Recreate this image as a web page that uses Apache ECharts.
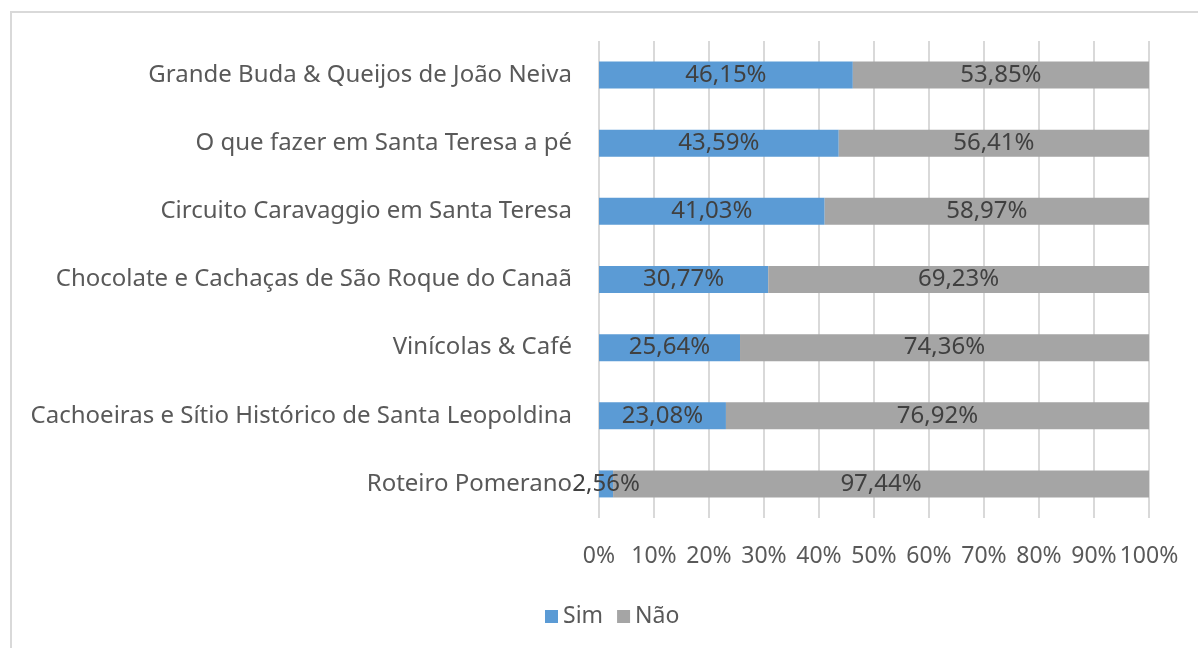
<!DOCTYPE html>
<html>
<head>
<meta charset="utf-8">
<script src="https://cdn.jsdelivr.net/npm/echarts@6/dist/echarts.min.js"></script>
<style>
  html, body { margin: 0; padding: 0; background: #fff; }
  #frame { position: absolute; left: 10px; top: 11px; width: 1200px; height: 660px; border: 2px solid #d9d9d9; box-sizing: border-box; }
  #chart { position: absolute; left: 0; top: 0; width: 1198px; height: 648px; }
</style>
</head>
<body>
<div id="frame"></div>
<div id="chart"></div>
<script>
var categories = [
  'Grande Buda & Queijos de João Neiva',
  'O que fazer em Santa Teresa a pé',
  'Circuito Caravaggio em Santa Teresa',
  'Chocolate e Cachaças de São Roque do Canaã',
  'Vinícolas & Café',
  'Cachoeiras e Sítio Histórico de Santa Leopoldina',
  'Roteiro Pomerano'
];
var simValues = [46.15, 43.59, 41.03, 30.77, 25.64, 23.08, 2.56];
var naoValues = [53.85, 56.41, 58.97, 69.23, 74.36, 76.92, 97.44];

var font = 'Noto Sans';

function pct(p) {
  return p.value.toFixed(2).replace('.', ',') + '%';
}

var chart = echarts.init(document.getElementById('chart'), null, { renderer: 'canvas' });

chart.setOption({
  animation: false,
  textStyle: { fontFamily: font },
  grid: { left: 599, right: 49, top: 41, bottom: 130, containLabel: false },
  legend: {
    top: 600,
    left: 540,
    itemWidth: 13,
    itemHeight: 13,
    itemGap: 14,
    itemTextGap: 6,
    icon: 'rect',
    textStyle: { fontSize: 23, color: '#595959', fontFamily: font },
    data: ['Sim', 'Não']
  },
  xAxis: {
    type: 'value',
    min: 0,
    max: 100,
    interval: 10,
    axisLine: { show: false },
    axisTick: { show: false },
    axisLabel: { margin: 27, fontSize: 23, color: '#595959', formatter: '{value}%' },
    splitLine: { lineStyle: { color: '#d9d9d9', width: 2 } }
  },
  yAxis: {
    type: 'category',
    inverse: true,
    data: categories,
    axisLine: { show: false },
    axisTick: { show: false },
    axisLabel: { margin: 27, fontSize: 24, color: '#595959' }
  },
  series: [
    {
      name: 'Sim',
      type: 'bar',
      stack: 'total',
      barWidth: 27,
      itemStyle: { color: '#5b9bd5' },
      label: { show: true, position: 'inside', fontSize: 24, color: '#404040', formatter: pct },
      data: simValues
    },
    {
      name: 'Não',
      type: 'bar',
      stack: 'total',
      barWidth: 27,
      itemStyle: { color: '#a5a5a5' },
      label: { show: true, position: 'inside', fontSize: 24, color: '#404040', formatter: pct },
      data: naoValues
    }
  ]
});
</script>
</body>
</html>
